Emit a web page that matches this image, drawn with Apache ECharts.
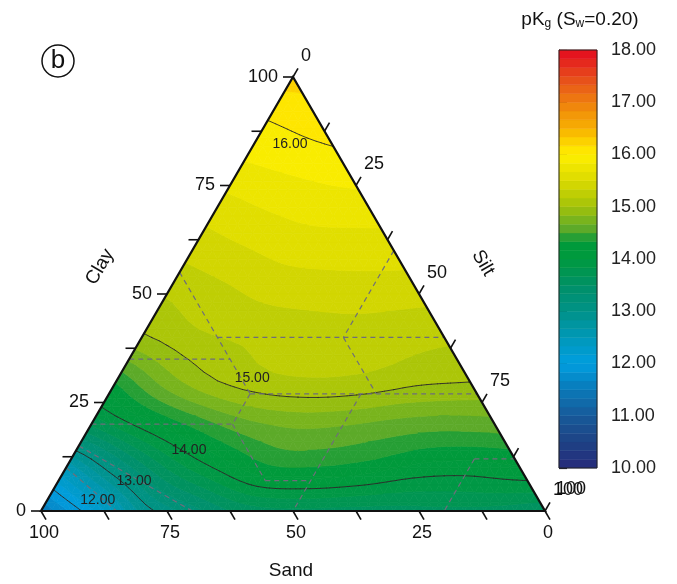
<!DOCTYPE html>
<html>
<head>
<meta charset="utf-8">
<script src="https://cdn.jsdelivr.net/npm/echarts@6.0.0/dist/echarts.min.js"></script>
<style>
  html, body { margin: 0; padding: 0; background: #fff; }
  #chart { width: 677px; height: 584px; }
</style>
</head>
<body>
<div id="chart"></div>
<script>
// pKg on a 10 % grid: one row per clay %, silt = 0, 10, 20 ... along each row
const clayLevels = [0, 10, 20, 30, 40, 50, 60, 70, 80, 90, 100];
const pkClay0   = [11.5, 12.13, 12.88, 13.25, 13.55, 13.62, 13.6, 13.6, 13.62, 13.6, 13.5];
const pkClay10  = [12.53, 13.16, 13.68, 14.03, 14.3, 14.32, 14.25, 14.12, 14.09, 14.15];
const pkClay20  = [13.7, 14.07, 14.37, 14.6, 14.7, 14.68, 14.61, 14.57, 14.59];
const pkClay30  = [14.36, 14.75, 15.0, 15.12, 15.15, 15.12, 15.04, 15.01];
const pkClay40  = [14.97, 15.12, 15.19, 15.23, 15.25, 15.23, 15.2];
const pkClay50  = [15.18, 15.28, 15.37, 15.4, 15.41, 15.39];
const pkClay60  = [15.39, 15.48, 15.56, 15.58, 15.58];
const pkClay70  = [15.59, 15.68, 15.74, 15.75];
const pkClay80  = [15.82, 15.88, 15.93];
const pkClay90  = [16.0, 16.08];
const pkClay100 = [16.25];
const pkRows = [pkClay0, pkClay10, pkClay20, pkClay30, pkClay40, pkClay50,
                pkClay60, pkClay70, pkClay80, pkClay90, pkClay100];

// contour lines and their labels
const contourLevels = [12, 13, 14, 15, 16];
const contourLabelLevels = [16, 15, 14, 13, 12];
const contourLabelClay = [84.6, 30.6, 14.1, 6.9, 2.5];
const contourLabelSilt = [7.1, 26.6, 22.3, 15.0, 10.0];

// colour scale
const scaleMin = 10, scaleMax = 18, bandsPerUnit = 6;
const colorStops = [
  [10.0, '#262a7b'], [10.5, '#1e4284'], [11.0, '#175a9a'], [11.5, '#0a79b8'],
  [12.0, '#009ee0'], [12.5, '#0098b8'], [13.0, '#009288'], [13.5, '#009066'],
  [14.0, '#009a3e'], [14.34, '#009a3a'], [14.5, '#4fa52f'], [15.0, '#a3c20a'],
  [15.5, '#dbda00'], [16.0, '#fff000'], [16.17, '#fddb00'], [16.5, '#f8b000'],
  [17.0, '#ee7f0f'], [17.5, '#e6481c'], [18.0, '#e30a1e']
];

// ternary axes
const tickValues = [0, 12.5, 25, 37.5, 50, 62.5, 75, 87.5, 100];
const labeledTicks = [0, 25, 50, 75, 100];

// soil texture class boundaries, [clay1, silt1, clay2, silt2]
const textureLines = [
  [55, 0, 27, 28], [35, 0, 35, 20], [40, 15, 40, 60], [60, 40, 40, 40],
  [40, 40, 27, 53], [27, 28, 27, 73], [27, 28, 20, 28], [20, 0, 20, 28],
  [20, 28, 7, 41], [7, 41, 7, 50], [27, 50, 0, 50], [12, 80, 12, 88],
  [12, 80, 0, 80], [15, 0, 0, 30], [10, 0, 0, 15]
];

const FONT = '"Liberation Sans", Arial, sans-serif';
const H = Math.sqrt(3) / 2;
const SUB = 5;   // each grid triangle is split SUB x SUB for a smooth surface

// clay/silt -> cartesian
function tern(clay, silt) {
  return [silt + clay / 2, clay * H];
}

function hexToRgb(h) {
  return [parseInt(h.slice(1, 3), 16), parseInt(h.slice(3, 5), 16), parseInt(h.slice(5, 7), 16)];
}
function colorAt(v) {
  for (let i = 0; i < colorStops.length - 1; i++) {
    const a = colorStops[i], b = colorStops[i + 1];
    if (v >= a[0] && v <= b[0]) {
      const t = (v - a[0]) / (b[0] - a[0]);
      const ca = hexToRgb(a[1]), cb = hexToRgb(b[1]);
      const c = ca.map((x, k) => Math.round(x + t * (cb[k] - x)));
      return 'rgb(' + c.join(',') + ')';
    }
  }
  return colorStops[colorStops.length - 1][1];
}

const bandCount = (scaleMax - scaleMin) * bandsPerUnit;
const bands = [];
for (let k = 0; k < bandCount; k++) {
  const lo = scaleMin + k / bandsPerUnit, hi = scaleMin + (k + 1) / bandsPerUnit;
  bands.push([lo, hi, colorAt((lo + hi) / 2)]);
}

// smooth (Catmull-Rom) surface through the grid values
function rowVal(i, j) {
  const row = pkRows[i], n = row.length;
  if (j >= 0 && j <= n - 1) return row[j];
  if (n === 1) return row[0];
  if (j < 0) return row[0] + j * (row[1] - row[0]);
  return row[n - 1] + (j - (n - 1)) * (row[n - 1] - row[n - 2]);
}
function gridVal(i, j) {
  if (i < 0) return 2 * rowVal(0, j) - rowVal(1, j);
  if (i > 10) return 2 * rowVal(10, j) - rowVal(9, j);
  return rowVal(i, j);
}
function cr(p0, p1, p2, p3, t) {
  return 0.5 * (2 * p1 + (p2 - p0) * t + (2 * p0 - 5 * p1 + 4 * p2 - p3) * t * t + (3 * p1 - p0 - 3 * p2 + p3) * t * t * t);
}
function surface(clay, silt) {
  const ci = clay / 10, sj = silt / 10;
  const i0 = Math.min(9, Math.max(0, Math.floor(ci)));
  const j0 = Math.min(9, Math.max(0, Math.floor(sj)));
  const ti = ci - i0, tj = sj - j0;
  const r = [-1, 0, 1, 2].map(di => {
    const i = i0 + di;
    return cr(gridVal(i, j0 - 1), gridVal(i, j0), gridVal(i, j0 + 1), gridVal(i, j0 + 2), tj);
  });
  return cr(r[0], r[1], r[2], r[3], ti);
}

// grid triangles: [clay1, silt1, clay2, silt2, clay3, silt3, v1, v2, v3]
const triangles = [];
for (let i = 0; i < clayLevels.length - 1; i++) {
  const c0 = clayLevels[i], c1 = clayLevels[i + 1];
  for (let j = 0; j < pkRows[i].length - 1; j++) {
    triangles.push([c0, j * 10, c0, j * 10 + 10, c1, j * 10, pkRows[i][j], pkRows[i][j + 1], pkRows[i + 1][j]]);
    if (j < pkRows[i + 1].length - 1) {
      triangles.push([c1, j * 10, c0, j * 10 + 10, c1, j * 10 + 10, pkRows[i + 1][j], pkRows[i][j + 1], pkRows[i + 1][j + 1]]);
    }
  }
}

// split one grid triangle into small triangles of pixel points with values
function subTriangles(api) {
  const V = [0, 1, 2].map(k => [api.value(2 * k), api.value(2 * k + 1)]);
  const nodes = {};
  for (let a = 0; a <= SUB; a++) {
    for (let b = 0; a + b <= SUB; b++) {
      const c = V[0][0] + a / SUB * (V[1][0] - V[0][0]) + b / SUB * (V[2][0] - V[0][0]);
      const s = V[0][1] + a / SUB * (V[1][1] - V[0][1]) + b / SUB * (V[2][1] - V[0][1]);
      const p = api.coord(tern(c, s));
      nodes[a + ',' + b] = { x: p[0], y: p[1], v: surface(c, s) };
    }
  }
  const tris = [];
  for (let a = 0; a < SUB; a++) {
    for (let b = 0; a + b < SUB; b++) {
      tris.push([nodes[a + ',' + b], nodes[(a + 1) + ',' + b], nodes[a + ',' + (b + 1)]]);
      if (a + b < SUB - 1) {
        tris.push([nodes[(a + 1) + ',' + b], nodes[(a + 1) + ',' + (b + 1)], nodes[a + ',' + (b + 1)]]);
      }
    }
  }
  return tris;
}

function clipPoly(pts, level, above) {
  const out = [];
  for (let i = 0; i < pts.length; i++) {
    const a = pts[i], b = pts[(i + 1) % pts.length];
    const ina = above ? a.v >= level : a.v <= level;
    const inb = above ? b.v >= level : b.v <= level;
    if (ina) out.push(a);
    if (ina !== inb) {
      const t = (level - a.v) / (b.v - a.v);
      out.push({ x: a.x + t * (b.x - a.x), y: a.y + t * (b.y - a.y), v: level });
    }
  }
  return out;
}

function renderBands(params, api) {
  const children = [];
  subTriangles(api).forEach(pts => {
    const vs = pts.map(p => p.v);
    const vmin = Math.min(...vs), vmax = Math.max(...vs);
    bands.forEach(b => {
      if (b[1] <= vmin || b[0] >= vmax) return;
      let poly = clipPoly(pts, b[0], true);
      poly = clipPoly(poly, b[1], false);
      if (poly.length < 3) return;
      children.push({
        type: 'polygon',
        shape: { points: poly.map(p => [p.x, p.y]) },
        style: { fill: b[2], stroke: b[2], lineWidth: 0.7 }
      });
    });
  });
  return { type: 'group', children };
}

function renderContours(params, api) {
  const children = [];
  subTriangles(api).forEach(pts => {
    contourLevels.forEach(L => {
      const cross = [];
      for (let i = 0; i < 3; i++) {
        const a = pts[i], b = pts[(i + 1) % 3];
        if ((a.v < L) !== (b.v < L)) {
          const t = (L - a.v) / (b.v - a.v);
          cross.push([a.x + t * (b.x - a.x), a.y + t * (b.y - a.y)]);
        }
      }
      if (cross.length === 2) {
        children.push({
          type: 'line',
          shape: { x1: cross[0][0], y1: cross[0][1], x2: cross[1][0], y2: cross[1][1] },
          style: { stroke: '#2a2a2a', lineWidth: 0.9, lineCap: 'round' }
        });
      }
    });
  });
  return { type: 'group', children };
}

const textureData = textureLines.map(l => [...tern(l[0], l[1]), ...tern(l[2], l[3])]);
function renderTexture(params, api) {
  const a = api.coord([api.value(0), api.value(1)]);
  const b = api.coord([api.value(2), api.value(3)]);
  return {
    type: 'line',
    shape: { x1: a[0], y1: a[1], x2: b[0], y2: b[1] },
    style: { stroke: '#6e6e7a', lineWidth: 1.2, lineDash: [5, 4] }
  };
}

const labelData = contourLabelLevels.map((lv, i) => [...tern(contourLabelClay[i], contourLabelSilt[i]), lv]);
function renderLabels(params, api) {
  const p = api.coord([api.value(0), api.value(1)]);
  return {
    type: 'text', x: p[0], y: p[1],
    style: { text: api.value(2).toFixed(2), fill: '#222', font: '14px ' + FONT, align: 'center', verticalAlign: 'middle' }
  };
}

// frame and ticks: [axis, value]  axis 0 = clay (left), 1 = silt (right), 2 = sand (bottom)
const tickData = [];
[0, 1, 2].forEach(ax => tickValues.forEach(v => tickData.push([ax, v])));
function renderTicks(params, api) {
  const ax = api.value(0), v = api.value(1);
  let p, d, label;
  if (ax === 0) {
    p = api.coord(tern(v, 0)); d = [-10, 0];
    label = { x: p[0] - 15, y: p[1], align: 'right' };
  } else if (ax === 1) {
    p = api.coord(tern(100 - v, v)); d = [5, -8.7];
    label = { x: p[0] + 8, y: p[1] - 21, align: 'left' };
  } else {
    p = api.coord(tern(0, 100 - v)); d = [5, 8.7];
    label = { x: p[0] + 3, y: p[1] + 22, align: 'center' };
  }
  const children = [{
    type: 'line',
    shape: { x1: p[0], y1: p[1], x2: p[0] + d[0], y2: p[1] + d[1] },
    style: { stroke: '#111', lineWidth: 1.6 }
  }];
  if (labeledTicks.indexOf(v) >= 0) {
    children.push({
      type: 'text', x: label.x, y: label.y,
      style: { text: String(v), fill: '#111', font: '18px ' + FONT, align: label.align, verticalAlign: 'middle' }
    });
  }
  return { type: 'group', children };
}

const corners = [[0, 0], [0, 100], [100, 0]];
function renderFrame(params, api) {
  const pts = corners.map(c => api.coord(tern(c[0], c[1])));
  return {
    type: 'polygon',
    shape: { points: pts },
    style: { fill: 'none', stroke: '#111', lineWidth: 2.2 }
  };
}

function renderBar(params, api) {
  const a = api.coord([0, api.value(1)]);
  const b = api.coord([1, api.value(0)]);
  const c = bands[params.dataIndex][2];
  return {
    type: 'rect',
    shape: { x: a[0], y: a[1], width: b[0] - a[0], height: b[1] - a[1] },
    style: { fill: c, stroke: c, lineWidth: 0.5 }
  };
}

const chart = echarts.init(document.getElementById('chart'));
chart.setOption({
  animation: false,
  backgroundColor: '#fff',
  grid: [
    { left: 41, top: 77, width: 504, height: 434 },
    { left: 559, top: 50, width: 38, height: 418, show: true, borderColor: '#222', borderWidth: 1, backgroundColor: 'transparent', z: 5 }
  ],
  xAxis: [
    { gridIndex: 0, type: 'value', min: 0, max: 100, show: false },
    { gridIndex: 1, type: 'value', min: 0, max: 1, show: false }
  ],
  yAxis: [
    { gridIndex: 0, type: 'value', min: 0, max: 100 * H, show: false },
    {
      gridIndex: 1, type: 'value', min: scaleMin, max: scaleMax, interval: 1, position: 'right',
      axisLine: { show: true, lineStyle: { color: '#222', width: 1 } },
      axisTick: { show: true, length: 8, lineStyle: { color: '#222', width: 1.2 } },
      splitLine: { show: false },
      axisLabel: { formatter: v => v.toFixed(2), color: '#222', fontSize: 18, fontFamily: FONT, margin: 14 }
    }
  ],
  graphic: [
    { type: 'circle', shape: { cx: 58, cy: 61, r: 16 }, style: { fill: 'none', stroke: '#111', lineWidth: 1.5 } },
    { type: 'text', x: 58, y: 61, style: { text: 'b', font: '26px ' + FONT, fill: '#111', align: 'center', verticalAlign: 'middle' } },
    { type: 'text', x: 100, y: 267, rotation: Math.PI / 3, style: { text: 'Clay', font: '19px ' + FONT, fill: '#111', align: 'center', verticalAlign: 'middle' } },
    { type: 'text', x: 483, y: 263, rotation: -Math.PI / 3, style: { text: 'Silt', font: '19px ' + FONT, fill: '#111', align: 'center', verticalAlign: 'middle' } },
    { type: 'text', x: 291, y: 571, style: { text: 'Sand', font: '19px ' + FONT, fill: '#111', align: 'center', verticalAlign: 'middle' } },
    { type: 'text', x: 556, y: 489, style: { text: '100', font: '18px ' + FONT, fill: '#111', align: 'left', verticalAlign: 'middle' } },
    {
      type: 'text', x: 580, y: 20,
      style: {
        text: '{a|pK}{s|g}{a| (S}{s|w}{a|=0.20)}',
        align: 'center', verticalAlign: 'middle', fill: '#111',
        rich: {
          a: { fontSize: 19, fontFamily: FONT, color: '#111', lineHeight: 22 },
          s: { fontSize: 12, fontFamily: FONT, color: '#111', lineHeight: 22, padding: [8, 0, 0, 0] }
        }
      }
    }
  ],
  series: [
    { type: 'custom', name: 'pKg', xAxisIndex: 0, yAxisIndex: 0, data: triangles, renderItem: renderBands, silent: true, z: 1 },
    { type: 'custom', name: 'contours', xAxisIndex: 0, yAxisIndex: 0, data: triangles, renderItem: renderContours, silent: true, z: 2 },
    { type: 'custom', name: 'texture', xAxisIndex: 0, yAxisIndex: 0, data: textureData, renderItem: renderTexture, encode: { x: [0, 2], y: [1, 3] }, silent: true, z: 3 },
    { type: 'custom', name: 'labels', xAxisIndex: 0, yAxisIndex: 0, data: labelData, renderItem: renderLabels, encode: { x: 0, y: 1 }, silent: true, z: 4 },
    { type: 'custom', name: 'frame', xAxisIndex: 0, yAxisIndex: 0, data: [[0, 0]], renderItem: renderFrame, silent: true, z: 5 },
    { type: 'custom', name: 'ticks', xAxisIndex: 0, yAxisIndex: 0, data: tickData, renderItem: renderTicks, silent: true, z: 5 },
    { type: 'custom', name: 'colorbar', xAxisIndex: 1, yAxisIndex: 1, data: bands.map(b => [b[0], b[1]]), renderItem: renderBar, encode: { y: [0, 1] }, silent: true, z: 2 }
  ]
});
</script>
</body>
</html>
